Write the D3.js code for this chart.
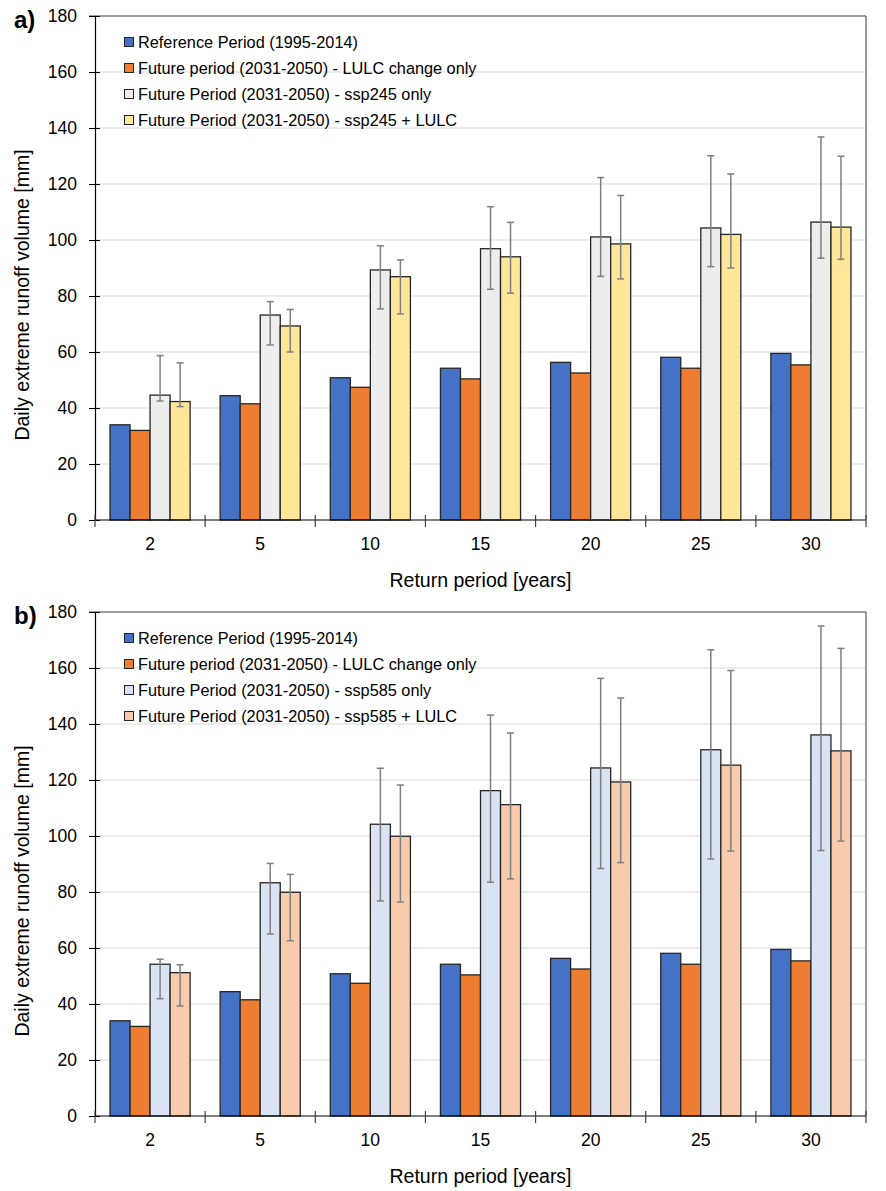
<!DOCTYPE html>
<html>
<head>
<meta charset="utf-8">
<script src="https://cdn.jsdelivr.net/npm/d3@7"></script>
<style>
  body { margin: 0; background: #fff; }
  svg { display: block; font-family: "Liberation Sans", Arial, sans-serif; }
</style>
</head>
<body>
<div id="chart"></div>
<script>
// return periods [years]
var categories = ["2", "5", "10", "15", "20", "25", "30"];
var yTicks = [0, 20, 40, 60, 80, 100, 120, 140, 160, 180];

// daily extreme runoff volume [mm]
var refPeriod = [34.0, 44.4, 50.8, 54.2, 56.3, 58.1, 59.5];
var lulcOnly  = [32.0, 41.5, 47.4, 50.4, 52.5, 54.2, 55.4];

var ssp245Only     = [44.6, 73.2, 89.3, 96.9, 101.1, 104.3, 106.4];
var ssp245OnlyLow  = [42.5, 62.5, 75.4, 82.4, 87.0, 90.5, 93.5];
var ssp245OnlyHigh = [58.7, 78.0, 97.9, 111.9, 122.3, 130.1, 136.8];
var ssp245Lulc     = [42.3, 69.3, 86.9, 94.0, 98.6, 102.0, 104.6];
var ssp245LulcLow  = [40.5, 60.0, 73.6, 81.0, 86.1, 90.0, 93.1];
var ssp245LulcHigh = [56.1, 75.2, 92.9, 106.3, 115.9, 123.6, 129.9];

var ssp585Only     = [54.2, 83.3, 104.2, 116.2, 124.3, 130.8, 136.1];
var ssp585OnlyLow  = [41.9, 65.0, 76.8, 83.5, 88.4, 91.8, 94.8];
var ssp585OnlyHigh = [56.0, 90.2, 124.2, 143.2, 156.3, 166.5, 175.0];
var ssp585Lulc     = [51.2, 79.9, 99.9, 111.2, 119.3, 125.3, 130.4];
var ssp585LulcLow  = [39.3, 62.6, 76.4, 84.7, 90.5, 94.6, 98.2];
var ssp585LulcHigh = [54.0, 86.3, 118.2, 136.8, 149.3, 159.1, 167.0];

var seriesA = [
  {name: "Reference Period (1995-2014)", values: refPeriod, color: "#4472C4"},
  {name: "Future period (2031-2050) - LULC change only", values: lulcOnly, color: "#ED7D31"},
  {name: "Future Period (2031-2050) - ssp245 only", values: ssp245Only, low: ssp245OnlyLow, high: ssp245OnlyHigh, color: "#EDEDED"},
  {name: "Future Period (2031-2050) - ssp245 + LULC", values: ssp245Lulc, low: ssp245LulcLow, high: ssp245LulcHigh, color: "#FFE699"}
];
var seriesB = [
  {name: "Reference Period (1995-2014)", values: refPeriod, color: "#4472C4"},
  {name: "Future period (2031-2050) - LULC change only", values: lulcOnly, color: "#ED7D31"},
  {name: "Future Period (2031-2050) - ssp585 only", values: ssp585Only, low: ssp585OnlyLow, high: ssp585OnlyHigh, color: "#DAE3F3"},
  {name: "Future Period (2031-2050) - ssp585 + LULC", values: ssp585Lulc, low: ssp585LulcLow, high: ssp585LulcHigh, color: "#F8CBAD"}
];

var iWidth = 886;
var iHeight = 1191;

var svg = d3.select("#chart").append("svg")
  .attr("width", iWidth)
  .attr("height", iHeight);

function DrawPanel(sLabel, aSeries, iTop)
{
  var iLeft = 95, iRight = 866, iPlotH = 504;
  var g = svg.append("g").attr("transform", "translate(0," + iTop + ")");

  var x = d3.scaleBand().domain(categories).range([iLeft, iRight]);
  var xInner = d3.scaleBand().domain(d3.range(aSeries.length))
    .range([0, x.bandwidth()]).paddingOuter(0.75);
  var y = d3.scaleLinear().domain([0, 180]).range([iPlotH, 0]);

  // gridlines
  g.append("g").selectAll("line")
    .data(yTicks.filter(function(d) { return d > 0 && d < 180; }))
    .enter().append("line")
      .attr("x1", iLeft).attr("x2", iRight)
      .attr("y1", function(d) { return y(d); })
      .attr("y2", function(d) { return y(d); })
      .attr("stroke", "#D9D9D9").attr("stroke-width", 1);

  // frame top / right
  g.append("line").attr("x1", iLeft - 6).attr("x2", iRight).attr("y1", y(180)).attr("y2", y(180))
    .attr("stroke", "#404040").attr("stroke-width", 1.2);
  g.append("line").attr("x1", iRight).attr("x2", iRight).attr("y1", y(180)).attr("y2", y(0))
    .attr("stroke", "#595959").attr("stroke-width", 1.2);

  // bars
  aSeries.forEach(function(s, i) {
    var grp = g.append("g");
    grp.selectAll("rect").data(s.values).enter().append("rect")
      .attr("x", function(d, j) { return x(categories[j]) + xInner(i); })
      .attr("y", function(d) { return y(d); })
      .attr("width", xInner.bandwidth())
      .attr("height", function(d) { return y(0) - y(d); })
      .attr("fill", s.color)
      .attr("stroke", "#262626")
      .attr("stroke-width", 1.3);

    if (s.low) {
      var eb = g.append("g").attr("stroke", "#7F7F7F").attr("stroke-width", 1.5);
      s.values.forEach(function(d, j) {
        var cx = x(categories[j]) + xInner(i) + xInner.bandwidth() / 2;
        eb.append("line").attr("x1", cx).attr("x2", cx)
          .attr("y1", y(s.low[j])).attr("y2", y(s.high[j]));
        eb.append("line").attr("x1", cx - 3.5).attr("x2", cx + 3.5)
          .attr("y1", y(s.low[j])).attr("y2", y(s.low[j]));
        eb.append("line").attr("x1", cx - 3.5).attr("x2", cx + 3.5)
          .attr("y1", y(s.high[j])).attr("y2", y(s.high[j]));
      });
    }
  });

  // y axis
  var yAxis = g.append("g").attr("transform", "translate(" + iLeft + ",0)")
    .call(d3.axisLeft(y).tickValues(yTicks).tickSize(6).tickPadding(12).tickSizeOuter(0));
  yAxis.select(".domain").attr("stroke", "#000").attr("stroke-width", 1.2);
  yAxis.selectAll(".tick line").attr("x1", 5).attr("x2", -6).attr("stroke", "#000");
  yAxis.selectAll(".tick text").attr("font-size", 17.5).attr("fill", "#000")
    .attr("font-family", "Liberation Sans, Arial, sans-serif");

  // x axis
  var xAxis = g.append("g").attr("transform", "translate(0," + iPlotH + ")");
  xAxis.append("line").attr("x1", iLeft).attr("x2", iRight)
    .attr("stroke", "#000").attr("stroke-width", 1.2);
  var aBounds = categories.map(function(c) { return x(c); }).concat([iRight]);
  xAxis.selectAll(".xtick").data(aBounds).enter().append("line")
    .attr("x1", function(d) { return d; }).attr("x2", function(d) { return d; })
    .attr("y1", -5).attr("y2", 7)
    .attr("stroke", "#404040").attr("stroke-width", 1.2);
  xAxis.selectAll(".xlabel").data(categories).enter().append("text")
    .attr("x", function(d) { return x(d) + x.bandwidth() / 2; })
    .attr("y", 30)
    .attr("text-anchor", "middle")
    .attr("font-size", 17.5)
    .text(function(d) { return d; });

  // axis titles
  g.append("text")
    .attr("x", (iLeft + iRight) / 2).attr("y", iPlotH + 67)
    .attr("text-anchor", "middle").attr("font-size", 19.5)
    .text("Return period [years]");
  g.append("text")
    .attr("transform", "translate(29," + 279 + ") rotate(-90)")
    .attr("text-anchor", "middle").attr("font-size", 19.5)
    .text("Daily extreme runoff volume [mm]");

  // panel label
  g.append("text").attr("x", 14).attr("y", 12)
    .attr("font-size", 24).attr("font-weight", "bold")
    .text(sLabel);

  // legend
  var legend = g.append("g");
  aSeries.forEach(function(s, i) {
    var ly = 26 + i * 26;
    legend.append("rect").attr("x", 124.5).attr("y", ly - 4.5)
      .attr("width", 9).attr("height", 9)
      .attr("fill", s.color).attr("stroke", "#262626").attr("stroke-width", 1);
    legend.append("text").attr("x", 138).attr("y", ly).attr("dy", "0.36em")
      .attr("font-size", 16.3).attr("fill", "#000")
      .text(s.name);
  });
}

DrawPanel("a)", seriesA, 16);
DrawPanel("b)", seriesB, 612);
</script>
</body>
</html>
